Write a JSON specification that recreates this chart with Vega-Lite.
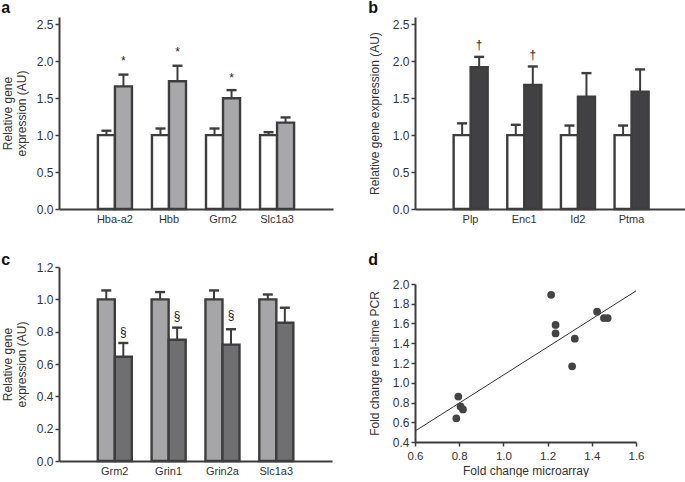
{
  "$schema": "https://vega.github.io/schema/vega-lite/v6.json",
  "background": "white",
  "padding": {"left": 1, "top": 0, "right": 0, "bottom": 0},
  "datasets": {
    "pa": [
      {"gene": "Hba-a2", "group": "ctrl", "value": 1.0, "upper": 1.06, "sig": "", "sigy": null},
      {"gene": "Hba-a2", "group": "trt", "value": 1.66, "upper": 1.82, "sig": "*", "sigy": 2.0},
      {"gene": "Hbb", "group": "ctrl", "value": 1.0, "upper": 1.09, "sig": "", "sigy": null},
      {"gene": "Hbb", "group": "trt", "value": 1.73, "upper": 1.94, "sig": "*", "sigy": 2.13},
      {"gene": "Grm2", "group": "ctrl", "value": 1.0, "upper": 1.09, "sig": "", "sigy": null},
      {"gene": "Grm2", "group": "trt", "value": 1.50, "upper": 1.61, "sig": "*", "sigy": 1.78},
      {"gene": "Slc1a3", "group": "ctrl", "value": 1.0, "upper": 1.04, "sig": "", "sigy": null},
      {"gene": "Slc1a3", "group": "trt", "value": 1.17, "upper": 1.24, "sig": "", "sigy": null}
    ],
    "pb": [
      {"gene": "Plp", "group": "ctrl", "value": 1.0, "upper": 1.16, "sig": "", "sigy": null},
      {"gene": "Plp", "group": "trt", "value": 1.92, "upper": 2.06, "sig": "†", "sigy": 2.22},
      {"gene": "Enc1", "group": "ctrl", "value": 1.0, "upper": 1.14, "sig": "", "sigy": null},
      {"gene": "Enc1", "group": "trt", "value": 1.68, "upper": 1.93, "sig": "†", "sigy": 2.09},
      {"gene": "Id2", "group": "ctrl", "value": 1.0, "upper": 1.13, "sig": "", "sigy": null},
      {"gene": "Id2", "group": "trt", "value": 1.52, "upper": 1.84, "sig": "", "sigy": null},
      {"gene": "Ptma", "group": "ctrl", "value": 1.0, "upper": 1.13, "sig": "", "sigy": null},
      {"gene": "Ptma", "group": "trt", "value": 1.59, "upper": 1.89, "sig": "", "sigy": null}
    ],
    "pc": [
      {"gene": "Grm2", "group": "ctrl", "value": 1.0, "upper": 1.055, "sig": "", "sigy": null},
      {"gene": "Grm2", "group": "trt", "value": 0.645, "upper": 0.73, "sig": "§", "sigy": 0.80},
      {"gene": "Grin1", "group": "ctrl", "value": 1.0, "upper": 1.045, "sig": "", "sigy": null},
      {"gene": "Grin1", "group": "trt", "value": 0.75, "upper": 0.825, "sig": "§", "sigy": 0.895},
      {"gene": "Grin2a", "group": "ctrl", "value": 1.0, "upper": 1.055, "sig": "", "sigy": null},
      {"gene": "Grin2a", "group": "trt", "value": 0.72, "upper": 0.815, "sig": "§", "sigy": 0.905},
      {"gene": "Slc1a3", "group": "ctrl", "value": 1.0, "upper": 1.03, "sig": "", "sigy": null},
      {"gene": "Slc1a3", "group": "trt", "value": 0.855, "upper": 0.948, "sig": "", "sigy": null}
    ],
    "pd": [
      {"micro": 1.216, "pcr": 1.89},
      {"micro": 1.236, "pcr": 1.585},
      {"micro": 1.236, "pcr": 1.50},
      {"micro": 1.323, "pcr": 1.446},
      {"micro": 1.311, "pcr": 1.166},
      {"micro": 1.424, "pcr": 1.72},
      {"micro": 1.455, "pcr": 1.655},
      {"micro": 1.472, "pcr": 1.655},
      {"micro": 0.796, "pcr": 0.86},
      {"micro": 0.806, "pcr": 0.76},
      {"micro": 0.817, "pcr": 0.73},
      {"micro": 0.787, "pcr": 0.64}
    ],
    "pdline": [
      {"micro": 0.6, "pcr": 0.51},
      {"micro": 1.6, "pcr": 1.93}
    ]
  },
  "hconcat": [
    {
      "vconcat": [
        {
          "title": {"text": "a", "offset": 1},
          "width": 274,
          "height": 192,
          "data": {"name": "pa"},
          "encoding": {
            "x": {"field": "gene", "type": "nominal", "sort": null, "title": null,
                  "scale": {"paddingInner": 0.37, "paddingOuter": 0.72},
                  "axis": {"labelAngle": 0, "ticks": false, "labelPadding": 4, "labelFontSize": 11}},
            "xOffset": {"field": "group", "type": "nominal", "scale": {"domain": ["ctrl", "trt"], "paddingInner": 0, "paddingOuter": 0}}
          },
          "layer": [
            {"mark": {"type": "rule", "color": "#3d3d3d", "strokeWidth": 2},
             "encoding": {"y": {"field": "value", "type": "quantitative"}, "y2": {"field": "upper"}}},
            {"mark": {"type": "tick", "color": "#3d3d3d", "size": 10, "thickness": 2.4, "opacity": 1},
             "encoding": {"y": {"field": "upper", "type": "quantitative"}}},
            {"mark": {"type": "bar", "stroke": "#3d3d3d", "strokeWidth": 2.4},
             "encoding": {
               "y": {"field": "value", "type": "quantitative",
                     "scale": {"domain": [0, 2.5]},
                     "axis": {"values": [0, 0.5, 1, 1.5, 2, 2.5], "tickCount": 6, "format": ".1f", "titlePadding": 8},
                     "title": ["Relative gene", "expression (AU)"]},
               "fill": {"condition": {"test": "datum.group === 'ctrl'", "value": "white"}, "value": "#a8a8ab"}
             }},
            {"mark": {"type": "text", "fontSize": 12, "fill": "#222", "baseline": "middle"},
             "encoding": {"y": {"field": "sigy", "type": "quantitative"}, "text": {"field": "sig"}}}
          ]
        },
        {
          "title": {"text": "c", "offset": -7},
          "width": 273,
          "height": 194,
          "data": {"name": "pc"},
          "encoding": {
            "x": {"field": "gene", "type": "nominal", "sort": null, "title": null,
                  "scale": {"paddingInner": 0.37, "paddingOuter": 0.72},
                  "axis": {"labelAngle": 0, "ticks": false, "labelPadding": 4, "labelFontSize": 11}},
            "xOffset": {"field": "group", "type": "nominal", "scale": {"domain": ["ctrl", "trt"], "paddingInner": 0, "paddingOuter": 0}}
          },
          "layer": [
            {"mark": {"type": "rule", "color": "#3d3d3d", "strokeWidth": 2},
             "encoding": {"y": {"field": "value", "type": "quantitative"}, "y2": {"field": "upper"}}},
            {"mark": {"type": "tick", "color": "#3d3d3d", "size": 10, "thickness": 2.4, "opacity": 1},
             "encoding": {"y": {"field": "upper", "type": "quantitative"}}},
            {"mark": {"type": "bar", "stroke": "#3d3d3d", "strokeWidth": 2.4},
             "encoding": {
               "y": {"field": "value", "type": "quantitative",
                     "scale": {"domain": [0, 1.2]},
                     "axis": {"values": [0, 0.2, 0.4, 0.6, 0.8, 1.0, 1.2], "tickCount": 7, "format": ".1f", "titlePadding": 8},
                     "title": ["Relative gene", "expression (AU)"]},
               "fill": {"condition": {"test": "datum.group === 'ctrl'", "value": "#a6a6a9"}, "value": "#6f6f72"}
             }},
            {"mark": {"type": "text", "fontSize": 12, "fill": "#222", "baseline": "middle"},
             "encoding": {"y": {"field": "sigy", "type": "quantitative"}, "text": {"field": "sig"}}}
          ]
        }
      ],
      "spacing": 28
    },
    {
      "vconcat": [
        {
          "title": {"text": "b", "offset": 1},
          "width": 272,
          "height": 192,
          "data": {"name": "pb"},
          "encoding": {
            "x": {"field": "gene", "type": "nominal", "sort": null, "title": null,
                  "scale": {"paddingInner": 0.37, "paddingOuter": 0.72},
                  "axis": {"labelAngle": 0, "ticks": false, "labelPadding": 4, "labelFontSize": 11}},
            "xOffset": {"field": "group", "type": "nominal", "scale": {"domain": ["ctrl", "trt"], "paddingInner": 0, "paddingOuter": 0}}
          },
          "layer": [
            {"mark": {"type": "rule", "color": "#3d3d3d", "strokeWidth": 2},
             "encoding": {"y": {"field": "value", "type": "quantitative"}, "y2": {"field": "upper"}}},
            {"mark": {"type": "tick", "color": "#3d3d3d", "size": 10, "thickness": 2.4, "opacity": 1},
             "encoding": {"y": {"field": "upper", "type": "quantitative"}}},
            {"mark": {"type": "bar", "stroke": "#3d3d3d", "strokeWidth": 2.4},
             "encoding": {
               "y": {"field": "value", "type": "quantitative",
                     "scale": {"domain": [0, 2.5]},
                     "axis": {"values": [0, 0.5, 1, 1.5, 2, 2.5], "tickCount": 6, "format": ".1f", "titlePadding": 11},
                     "title": "Relative gene expression (AU)"},
               "fill": {"condition": {"test": "datum.group === 'ctrl'", "value": "white"}, "value": "#414143"}
             }},
            {"mark": {"type": "text", "fontSize": 12, "fill": "#222", "baseline": "middle"},
             "encoding": {"y": {"field": "sigy", "type": "quantitative"}, "text": {"field": "sig"}}}
          ]
        },
        {
          "title": {"text": "d", "offset": 10},
          "width": 221,
          "height": 158,
          "layer": [
            {"data": {"name": "pdline"},
             "mark": {"type": "line", "color": "#333", "strokeWidth": 1},
             "encoding": {
               "x": {"field": "micro", "type": "quantitative"},
               "y": {"field": "pcr", "type": "quantitative"}
             }},
            {"data": {"name": "pd"},
             "mark": {"type": "circle", "size": 60, "color": "#444", "opacity": 1},
             "encoding": {
               "x": {"field": "micro", "type": "quantitative",
                     "scale": {"domain": [0.6, 1.6], "nice": false, "zero": false},
                     "axis": {"values": [0.6, 0.8, 1.0, 1.2, 1.4, 1.6], "tickCount": 6, "format": ".1f", "labelPadding": 4, "titlePadding": 4, "labelFontSize": 11.5},
                     "title": "Fold change microarray"},
               "y": {"field": "pcr", "type": "quantitative",
                     "scale": {"domain": [0.4, 2.0], "nice": false, "zero": false},
                     "axis": {"values": [0.4, 0.6, 0.8, 1.0, 1.2, 1.4, 1.6, 1.8, 2.0], "tickCount": 9, "format": ".1f", "titlePadding": 11},
                     "title": "Fold change real-time PCR"}
             }}
          ]
        }
      ],
      "spacing": 28
    }
  ],
  "spacing": 35,
  "config": {
    "font": "Liberation Sans",
    "view": {"stroke": null},
    "title": {"anchor": "start", "frame": "bounds", "fontSize": 16, "fontWeight": "bold", "color": "#111"},
    "axis": {
      "grid": false,
      "domainColor": "#3d3d3d",
      "domainWidth": 2,
      "tickColor": "#3d3d3d",
      "tickWidth": 1.5,
      "tickSize": 4,
      "labelColor": "#333",
      "labelFontSize": 12,
      "labelOverlap": false,
      "labelFlush": false,
      "titleFontSize": 12,
      "titleLineHeight": 14,
      "titleFontWeight": "normal",
      "titleColor": "#333"
    }
  }
}
